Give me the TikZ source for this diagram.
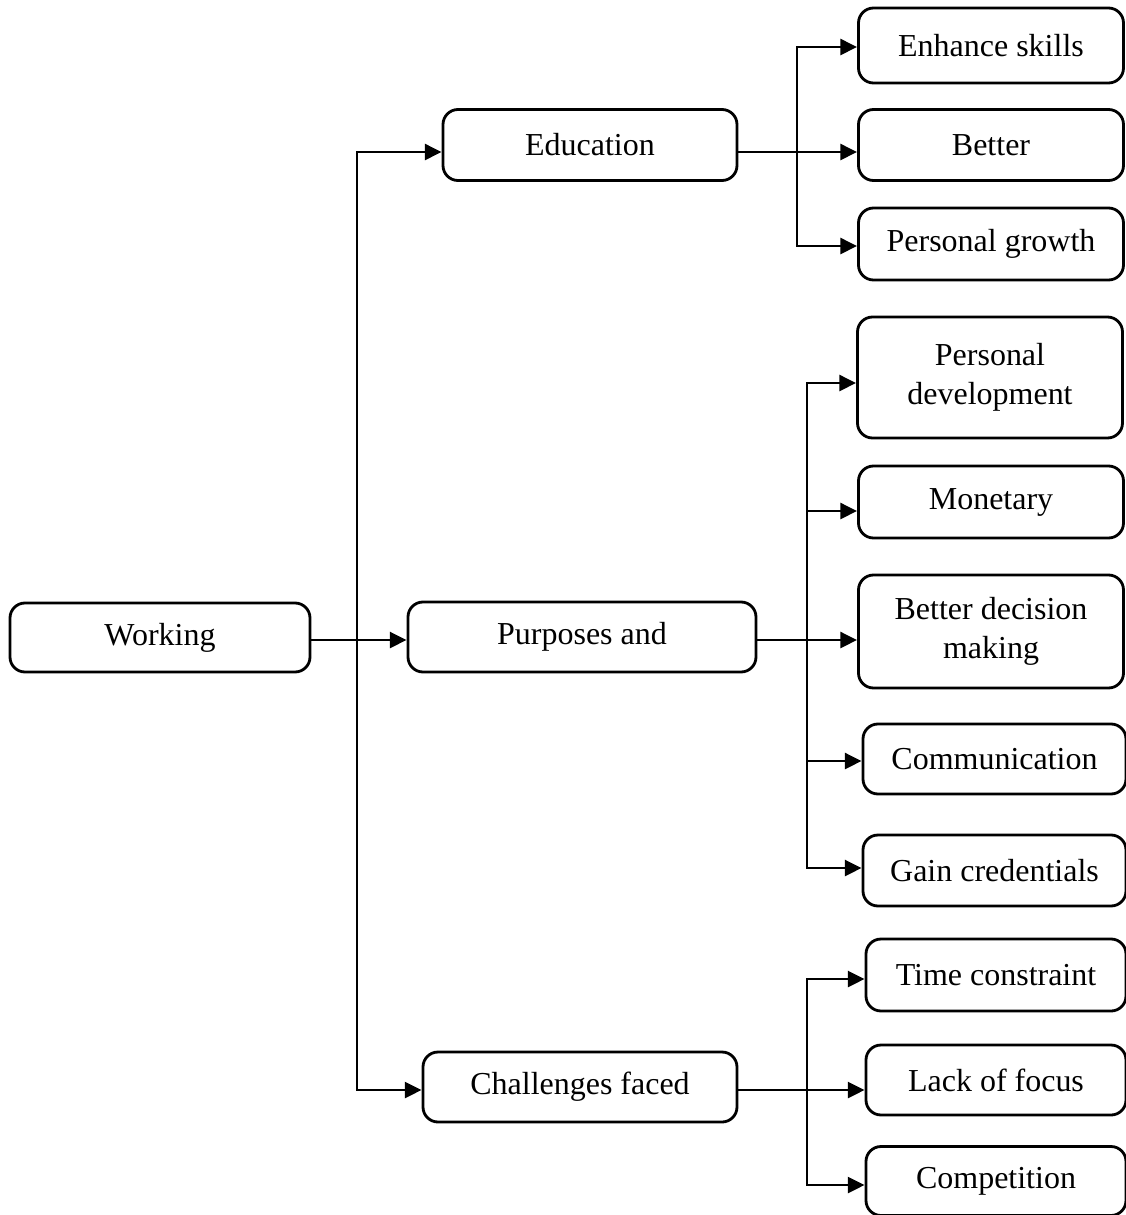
\documentclass[tikz,border=0pt]{standalone}
\usepackage{fontspec}
\setmainfont{Liberation Serif}
\usepackage{tikz}
\usetikzlibrary{arrows.meta,positioning}

\tikzset{
  box/.style={draw, rounded corners=0.3cm, line width=1.6pt, inner sep=2pt,
    minimum height=1.42cm, align=center, font=\fontsize{18.2}{22}\selectfont},
  leaf/.style={box, minimum width=5.3cm},
  arr/.style={line width=1.6pt, -{Triangle[length=9.5pt,width=9pt]}}
}

\begin{document}
\begin{tikzpicture}
      \useasboundingbox (0,0) rectangle (22.52,-24.3);
      % main boxes
      \node[box, minimum width=6cm, minimum height=1.38cm] (working) at (3.2,-12.75) {Working};
      \node[box, minimum width=5.88cm] (education) at (11.8,-2.9) {Education};
      \node[box, minimum width=6.96cm, minimum height=1.4cm] (purposes) at (11.64,-12.74) {Purposes and};
      \node[box, minimum width=6.28cm, minimum height=1.4cm] (challenges) at (11.6,-21.74) {Challenges faced};
      % education leaves
      \node[leaf, minimum height=1.5cm] (enhance) at (19.82,-0.91) {Enhance skills};
      \node[leaf] (better) at (19.82,-2.9) {Better};
      \node[leaf, minimum height=1.44cm] (growth) at (19.82,-4.88) {Personal growth};
      % purposes leaves
      \node[leaf, minimum height=2.42cm] (persdev) at (19.8,-7.55) {Personal\\development};
      \node[leaf, minimum height=1.44cm] (monetary) at (19.82,-10.04) {Monetary};
      \node[leaf, minimum height=2.26cm] (decision) at (19.82,-12.63) {Better decision\\making};
      \node[leaf, minimum width=5.26cm, minimum height=1.4cm] (communication) at (19.89,-15.18) {Communication};
      \node[leaf, minimum width=5.26cm] (credentials) at (19.89,-17.41) {Gain credentials};
      % challenges leaves
      \node[leaf, minimum width=5.2cm, minimum height=1.44cm] (time) at (19.92,-19.5) {Time constraint};
      \node[leaf, minimum width=5.2cm, minimum height=1.4cm] (focus) at (19.92,-21.6) {Lack of focus};
      \node[leaf, minimum width=5.2cm, minimum height=1.38cm] (competition) at (19.92,-23.62) {Competition};

      % junctions
      \coordinate (j0) at (7.14,-12.8);
      \coordinate (j1) at (15.94,-3.04);
      \coordinate (j2) at (16.14,-12.8);
      \coordinate (j3) at (16.14,-21.8);

      % first level
      \draw[arr] ([yshift=-0.05cm]working.east) -- ([yshift=-0.06cm]purposes.west);
      \draw[arr] (j0) |- ([yshift=-0.14cm]education.west);
      \draw[arr] (j0) |- ([yshift=-0.06cm]challenges.west);
      % education branch
      \draw[arr] ([yshift=-0.14cm]education.east) -- ([yshift=-0.14cm]better.west);
      \draw[arr] (j1) |- ([yshift=-0.03cm]enhance.west);
      \draw[arr] (j1) |- ([yshift=-0.04cm]growth.west);
      % purposes branch
      \draw[arr] ([yshift=-0.06cm]purposes.east) -- ([yshift=-0.17cm]decision.west);
      \draw[arr] (j2) |- ([yshift=-0.11cm]persdev.west);
      \draw[arr] (j2) |- ([yshift=-0.18cm]monetary.west);
      \draw[arr] (j2) |- ([yshift=-0.04cm]communication.west);
      \draw[arr] (j2) |- ([yshift=0.05cm]credentials.west);
      % challenges branch
      \draw[arr] ([yshift=-0.06cm]challenges.east) -- ([yshift=-0.2cm]focus.west);
      \draw[arr] (j3) |- ([yshift=-0.08cm]time.west);
      \draw[arr] (j3) |- ([yshift=-0.08cm]competition.west);
    \end{tikzpicture}
\end{document}
